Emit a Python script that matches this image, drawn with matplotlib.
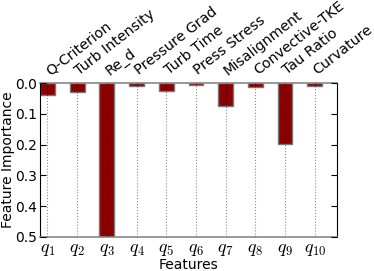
import matplotlib
matplotlib.use("Agg")
import matplotlib.pyplot as plt
import numpy as np

features = ["Q-Criterion", "Turb Intensity", "Re_d", "Pressure Grad", "Turb Time",
            "Press Stress", "Misalignment", "Convective-TKE", "Tau Ratio", "Curvature"]
short_labels = [r"$q_{%d}$" % i for i in range(1, 11)]
importance = [0.040, 0.030, 0.55, 0.009, 0.027, 0.007, 0.075, 0.012, 0.199, 0.010]

plt.rcParams['mathtext.fontset'] = 'cm'
plt.rcParams['font.family'] = 'DejaVu Sans'

fig = plt.figure(figsize=(3.74, 2.71), dpi=100)
ax = fig.add_axes([40/374, 1-237/271, 297/374, 154/271])

x = np.arange(len(features))
ax.bar(x, importance, width=0.5, color='#8b0000', edgecolor='#777777', linewidth=1, zorder=2)
ax.set_xlim(-0.25, 9.75)
ax.set_ylim(0.5, 0.0)
ax.set_yticks([0.0, 0.1, 0.2, 0.3, 0.4, 0.5])
ax.set_yticklabels(["0.0", "0.1", "0.2", "0.3", "0.4", "0.5"], fontsize=10)
ax.set_xticks(x)
ax.set_xticklabels(short_labels, fontsize=13)
ax.tick_params(axis='x', length=0, pad=2)
ax.tick_params(axis='y', direction='in', right=True, left=True, length=4, pad=2)
ax.grid(axis='x', linestyle=':', color='k', alpha=0.45, linewidth=0.8, zorder=3)
ax.set_axisbelow(False)
ax.set_xlabel("Features", fontsize=10, labelpad=0)
ax.set_ylabel("Feature Importance", fontsize=10, labelpad=0.5)
for s in ['top', 'bottom']:
    ax.spines[s].set_color('#888888')
    ax.spines[s].set_linewidth(1.2)

for xi, name in zip(x, features):
    ax.annotate(name, xy=(xi, 0.0), xycoords=('data', 'data'), xytext=(3.1, 3.8),
                textcoords='offset points', rotation=38, ha='left', va='bottom',
                rotation_mode='anchor', fontsize=10.3)

fig.savefig("out.png", dpi=100)
